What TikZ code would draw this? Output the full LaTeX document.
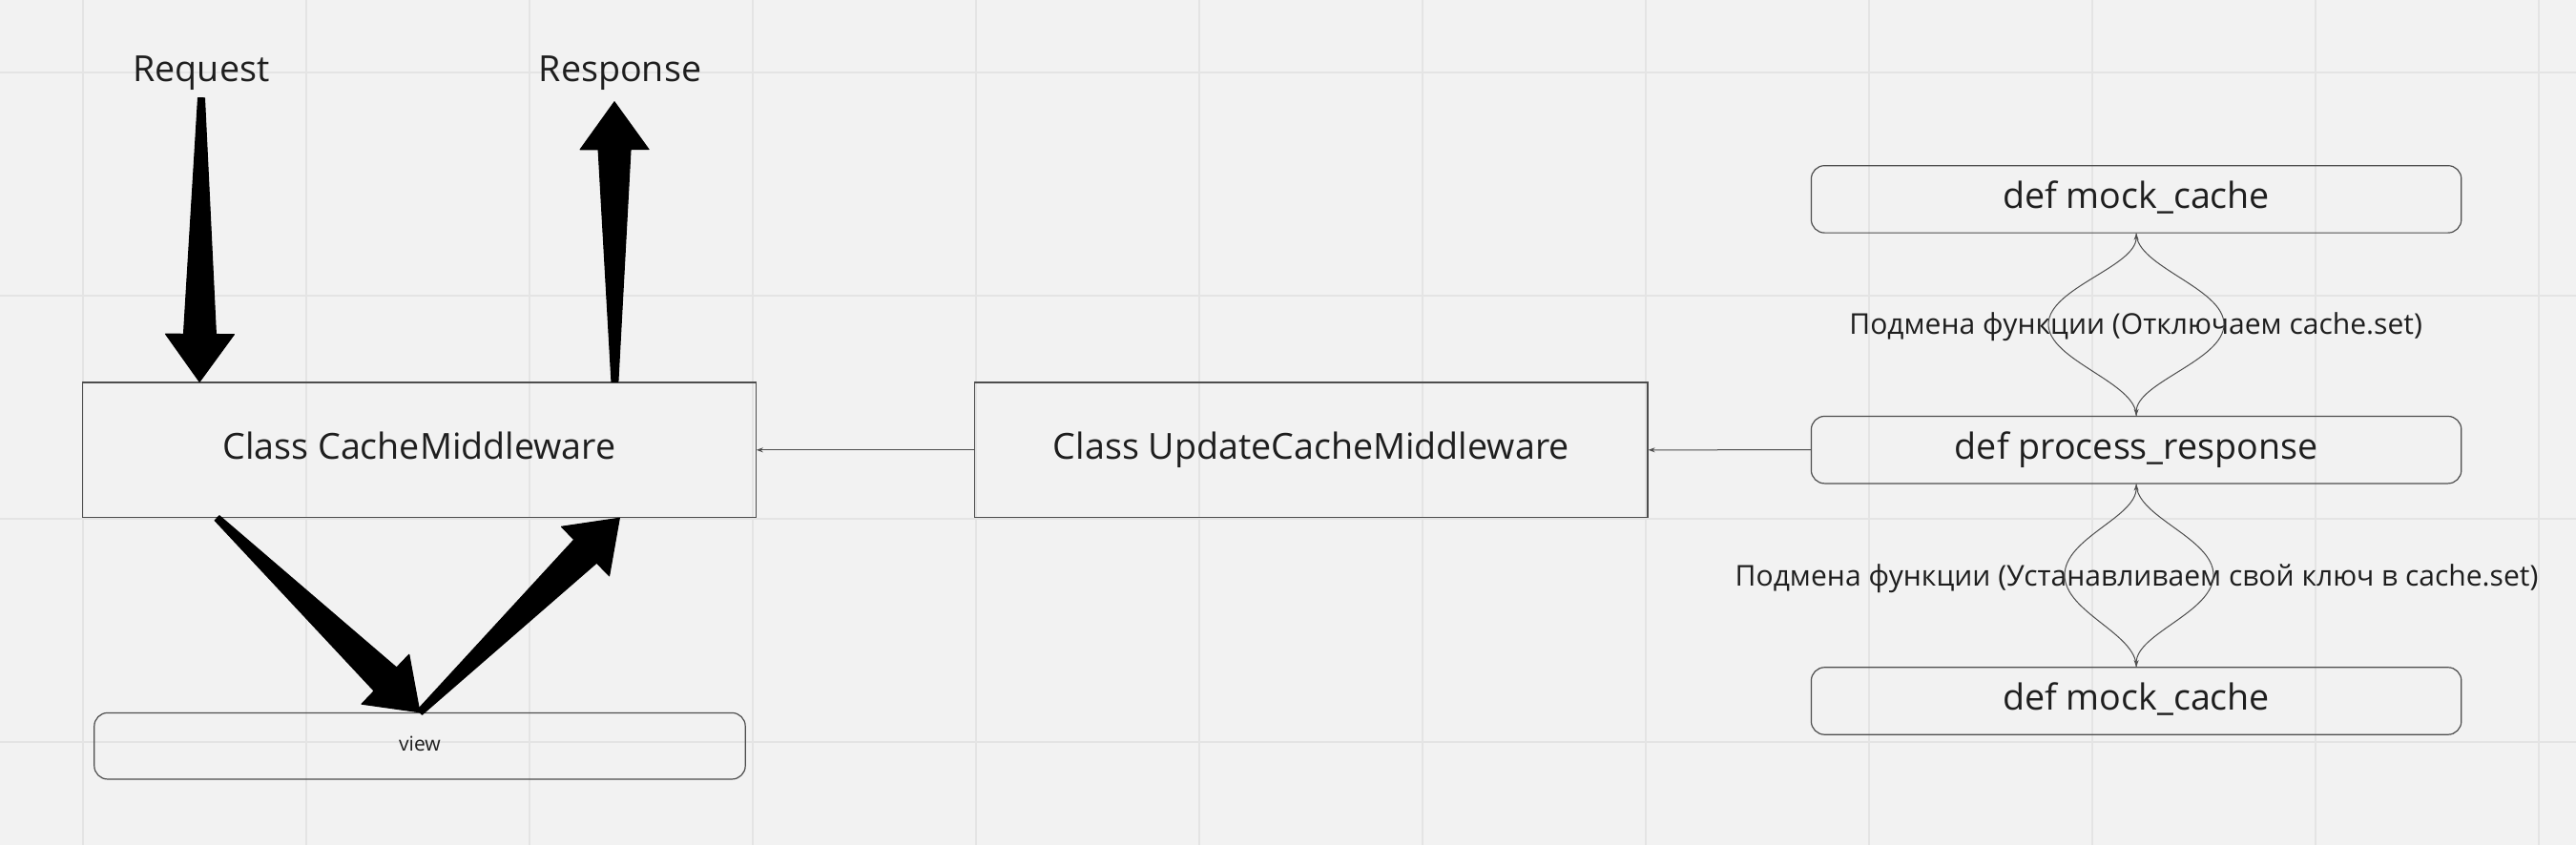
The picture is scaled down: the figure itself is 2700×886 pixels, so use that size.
\documentclass[tikz,border=0pt]{standalone}
\usepackage{fontspec}
\setmainfont{Open Sans}
\usepackage{tikz}
\usetikzlibrary{arrows.meta,calc}

\definecolor{board}{HTML}{F2F2F2}
\definecolor{gridgray}{HTML}{E4E4E4}
\definecolor{edge}{HTML}{4D4D4D}
\definecolor{ink}{HTML}{1E1E1E}

% tapered thick arrow from #1 to #2
\newcommand{\fatarrow}[2]{%
  \coordinate (hb) at ($(#2)!0.5cm!(#1)$);
  \filldraw[black, line width=0.01cm, line join=round]
    ($(#1)!0.035cm!90:(#2)$) -- ($(hb)!0.17cm!90:(#2)$) -- ($(hb)!0.36cm!90:(#2)$) --
    (#2) -- ($(hb)!0.36cm!-90:(#2)$) -- ($(hb)!0.17cm!-90:(#2)$) --
    ($(#1)!0.035cm!-90:(#2)$) -- cycle;}

\begin{document}
\begin{tikzpicture}[x=0.01cm, y=-0.01cm,
    box/.style={draw=edge, line width=0.012cm, minimum width=7.05cm, minimum height=1.415cm,
      inner sep=0pt, text=ink, font=\fontsize{10.7}{13}\selectfont, text height=8.1pt, text depth=2.6pt},
    fnbox/.style={box, rounded corners=0.14cm, minimum width=6.81cm, minimum height=0.704cm},
    title/.style={text=ink, font=\fontsize{10.7}{13}\selectfont, anchor=base, inner sep=0pt},
    note/.style={text=ink, font=\fontsize{8.55}{10}\selectfont, anchor=base, inner sep=0pt},
    link/.style={draw=edge, line width=0.01cm, -{Stealth[length=0.07cm,width=0.05cm]}}]
\fill[board] (0,0) rectangle (2700,886);
\useasboundingbox (0,0) rectangle (2700,886);
\foreach \gx in {87,321,...,2661}
  \draw[gridgray, line width=0.02cm] (\gx,0) -- (\gx,886);
\foreach \gy in {76,310,...,778}
  \draw[gridgray, line width=0.02cm] (0,\gy) -- (2700,\gy);

\node[box] (cache) at (439.5,471.8) {Class CacheMiddleware};
\node[box] (upd) at (1374.3,471.8) {Class UpdateCacheMiddleware};
\node[fnbox] (mock1) at (2239.1,208.9) {def mock\_cache};
\node[fnbox] (proc) at (2239.1,471.7) {def process\_response};
\node[fnbox] (mock2) at (2239.1,735) {def mock\_cache};
\node[fnbox, font=\fontsize{6}{7}\selectfont, text height=4.6pt, text depth=1.5pt,
  minimum width=6.82cm, minimum height=0.695cm] (view) at (440,782.2) {view};

\node[title] (req) at (211,86) {Request};
\node[title] (resp) at (650,86) {Response};
\node[note] (lab1) at (2238.6,351) {Подмена функции (Отключаем cache.set)};
\node[note] (lab2) at (2239.5,615) {Подмена функции (Устанавливаем свой ключ в cache.set)};

\draw[link] (upd.west) -- (cache.east);
\draw[link] (proc.west) -- (upd.east);

\draw[link] (proc.north) .. controls ([yshift=0.35cm]proc.north) and (2147,378) .. (2147,340)
  .. controls (2147,302) and ([yshift=-0.35cm]mock1.south) .. (mock1.south);
\draw[link] (mock1.south) .. controls ([yshift=-0.35cm]mock1.south) and (2331,302) .. (2331,340)
  .. controls (2331,378) and ([yshift=0.35cm]proc.north) .. (proc.north);
\draw[link] (mock2.north) .. controls ([yshift=0.35cm]mock2.north) and (2164,642) .. (2164,603)
  .. controls (2164,564) and ([yshift=-0.35cm]proc.south) .. (proc.south);
\draw[link] (proc.south) .. controls ([yshift=-0.35cm]proc.south) and (2320,564) .. (2320,603)
  .. controls (2320,642) and ([yshift=0.35cm]mock2.north) .. (mock2.north);

\coordinate (rq1) at ([yshift=-0.07cm]req.south);
\coordinate (rq2) at ($(cache.north west)!0.174!(cache.north east)$);
\coordinate (rs1) at ($(cache.north west)!0.79!(cache.north east)$);
\coordinate (rs2) at ([xshift=-0.06cm, yshift=-0.11cm]resp.south);
\coordinate (vw1) at ($(cache.south west)!0.2!(cache.south east)$);
\coordinate (vw2) at ($(cache.south west)!0.797!(cache.south east)$);
\fatarrow{rq1}{rq2}
\fatarrow{rs1}{rs2}
\fatarrow{vw1}{view.north}
\fatarrow{view.north}{vw2}
\end{tikzpicture}
\end{document}
